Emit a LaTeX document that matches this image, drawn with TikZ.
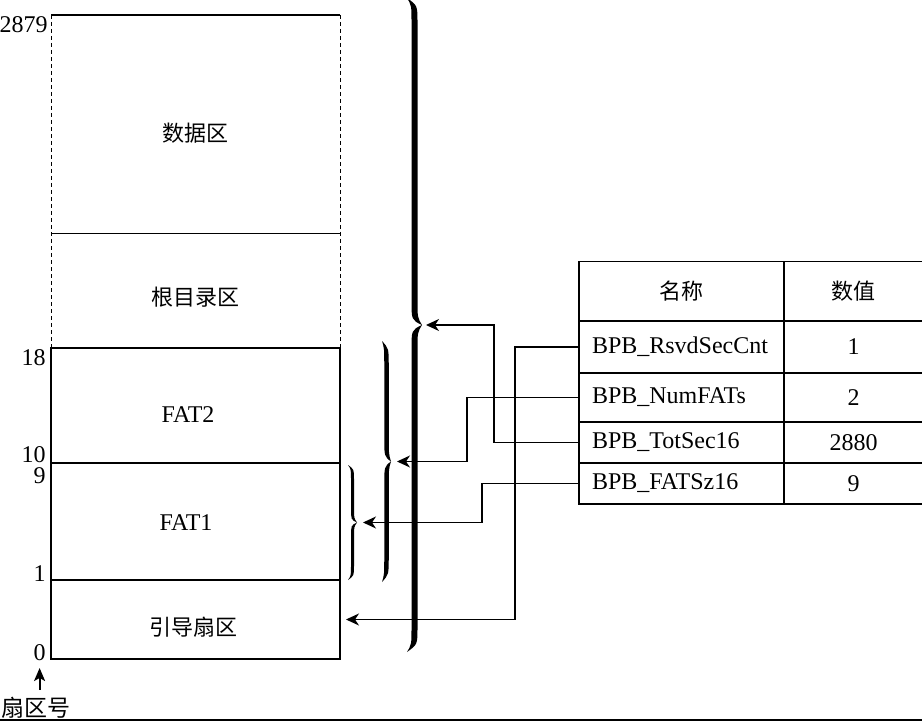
\documentclass[tikz,border=0pt]{standalone}
\usepackage{fontspec}
\setmainfont{Liberation Serif}
\newfontfamily\cjk{Noto Sans CJK SC}
\usetikzlibrary{arrows.meta}

% Right-pointing brace drawn as a filled, tapered stroke.
% #1 x of the ends, #2 top y, #3 bottom y, #4 amplitude, #5 arm thickness
\newcommand\tapbrace[5]{%
  \pgfmathsetmacro\brM{(#2+#3)/2}%
  \pgfmathsetmacro\brA{#1+#4/2}%
  \pgfmathsetmacro\brC{min(25,(#3-#2)/8)}%
  \pgfmathsetmacro\brO{\brA+#5/2}%
  \pgfmathsetmacro\brI{\brA-#5/2}%
  \pgfmathsetmacro\brT{#1+#4}%
  \fill (#1,#2) .. controls (\brO,{#2+0.3*\brC}) .. (\brO,{#2+\brC})
    -- (\brO,{\brM-\brC}) .. controls (\brO,{\brM-0.3*\brC}) .. (\brT,\brM)
    .. controls (\brO,{\brM+0.3*\brC}) .. (\brO,{\brM+\brC})
    -- (\brO,{#3-\brC}) .. controls (\brO,{#3-0.3*\brC}) .. (#1,#3)
    .. controls (\brI,{#3-0.3*\brC}) .. (\brI,{#3-\brC})
    -- (\brI,{\brM+\brC}) .. controls (\brI,{\brM+0.2*\brC}) .. (\brT,\brM)
    .. controls (\brI,{\brM-0.2*\brC}) .. (\brI,{\brM-\brC})
    -- (\brI,{#2+\brC}) .. controls (\brI,{#2+0.3*\brC}) .. (#1,#2) -- cycle;%
}

\tikzset{
  latin/.style={font=\fontsize{12}{14}\selectfont},
  cjkf/.style={font=\cjk\fontsize{11}{13}\selectfont},
  region/.style={minimum width=144.5pt, anchor=north west, inner sep=0pt, outer sep=0pt},
  sect/.style={region, draw, line width=0.8pt},
  dashline/.style={line width=0.5pt, dash pattern=on 2pt off 1.5pt},
  numlbl/.style={latin, anchor=east, inner sep=0pt},
  cell/.style={draw, line width=0.8pt, inner sep=0pt, outer sep=0pt, anchor=north west},
  namecell/.style={cell, latin, inner xsep=6.5pt, text width=89.5pt, align=left, minimum width=102.5pt},
  valcell/.style={cell, latin, minimum width=69.5pt},
  conn/.style={line width=0.7pt, -{Stealth[length=6.5pt,width=6pt,inset=2pt]}},
}

\begin{document}
\begin{tikzpicture}[x=0.5pt,y=-0.5pt]
\useasboundingbox (0,0) rectangle (922,722);

% sector layout column
\node[region, minimum height=109.5pt] (data) at (51,15) {};
\node[region, minimum height=57pt] (root) at (51,234) {};
\node[sect, minimum height=57.5pt] (fat2) at (51,348) {};
\node[sect, minimum height=58.5pt] (fat1) at (51,463) {};
\node[sect, minimum height=39.5pt] (boot) at (51,580) {};
\draw[line width=0.9pt] (data.north west) -- (data.north east);
\draw[line width=0.5pt] (data.south west) -- (data.south east);
\draw[dashline] (data.north west) -- (root.south west);
\draw[dashline] (data.north east) -- (root.south east);

\node[cjkf] at (195,133) {数据区};
\node[cjkf] at (195,297) {根目录区};
\node[latin] at (188,415) {FAT2};
\node[latin] at (186,523) {FAT1};
\node[cjkf] at (193,627) {引导扇区};

% sector numbers
\node[numlbl] (n2879) at (48,24.5) {2879};
\node[numlbl] (n18) at (46,357.5) {18};
\node[numlbl] (n10) at (46,454.5) {10};
\node[numlbl] (n9) at (46,475.5) {9};
\node[numlbl] (n1) at (46,574) {1};
\node[numlbl] (n0) at (46,652.5) {0};
\node[cjkf, font=\cjk\fontsize{11.5}{13}\selectfont, inner sep=0pt] (sechead) at (36,708) {扇区号};
\draw[line width=0.9pt, -{Stealth[length=6.5pt,width=5.5pt,inset=1.5pt]}]
  (n0.south |- sechead.north) ++(0,-7) -- ([yshift=-3.5pt]n0.south);

% braces
\tapbrace{407}{-2}{652}{15}{6}
\tapbrace{382}{341}{582}{9}{4.5}
\tapbrace{348}{465}{580}{9}{3}
\coordinate (bigtip) at (422,325);
\coordinate (midtip) at (391,461.5);
\coordinate (smalltip) at (357,522.5);

% BPB table
\node[cell, cjkf, minimum width=102.5pt, minimum height=29.75pt] (hname) at (579,261.5) {名称};
\node[cell, cjkf, minimum width=69.5pt, minimum height=29.75pt] (hval) at (784,261.5) {数值};
\node[namecell, minimum height=26pt] (rsvd) at (579,321) {BPB\_RsvdSecCnt};
\node[valcell, minimum height=26pt] (v1) at (784,321) {1};
\node[namecell, minimum height=24.5pt] (numf) at (579,373) {BPB\_NumFATs};
\node[valcell, minimum height=24.5pt] (v2) at (784,373) {2};
\node[namecell, minimum height=20.5pt] (tots) at (579,422) {BPB\_TotSec16};
\node[valcell, minimum height=20.5pt] (v3) at (784,422) {2880};
\node[namecell, minimum height=20.5pt] (fatsz) at (579,463) {BPB\_FATSz16};
\node[valcell, minimum height=20.5pt] (v4) at (784,463) {9};

% connectors from the table to the regions
\draw[conn, shorten >=2pt] (tots.west) -- ++(-85,0) |- (bigtip);
\draw[conn, shorten >=3pt] (numf.west) -- ++(-112,0) |- (midtip);
\draw[conn, shorten >=3pt] (fatsz.west) -- ++(-97,0) |- (smalltip);
\draw[conn, shorten >=3pt] (rsvd.west) -- ++(-64,0) |- (boot.east);

% base rule
\draw[line width=1.2pt] (0,720) -- (922,720);
\end{tikzpicture}
\end{document}
